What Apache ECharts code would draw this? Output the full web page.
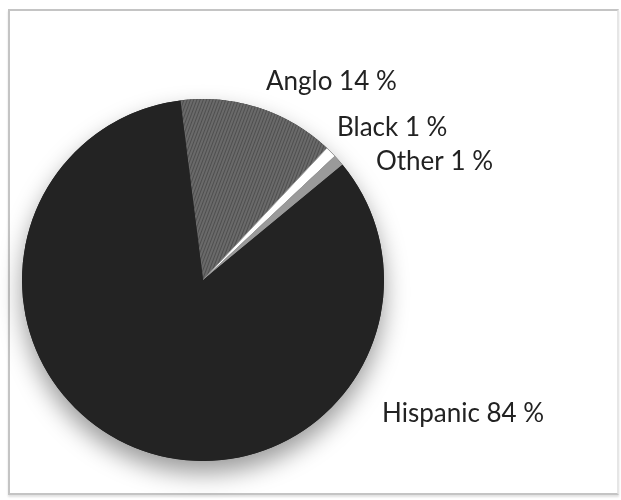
<!DOCTYPE html>
<html>
<head>
<meta charset="utf-8">
<script src="https://cdn.jsdelivr.net/npm/echarts@6/dist/echarts.min.js"></script>
<style>
  html, body { margin: 0; padding: 0; background: #ffffff; }
  #frame {
    position: absolute; left: 8px; top: 9px; width: 611px; height: 486px;
    border: 2px solid #c4c4c4; border-right-color: #e6e6e6; box-sizing: border-box;
    box-shadow: 0 2px 2px rgba(0,0,0,0.12);
  }
  #chart { position: absolute; left: 0; top: 0; width: 621px; height: 500px; }
</style>
</head>
<body>
<div id="frame"></div>
<div id="chart"></div>
<script>
// Ethnic composition, percent
var groups = ['Anglo', 'Black', 'Other', 'Hispanic'];
var shares = [14, 1, 1, 84];
var sliceColors = ['#6a6a6a', '#ffffff', '#9a9a9a', '#232323'];

// label anchors (left edge, vertical middle)
var labelAnchors = [[266, 82], [337, 128], [376, 162], [382, 414]];

var total = shares.reduce(function (a, b) { return a + b; }, 0);

var chart = echarts.init(document.getElementById('chart'), null, { renderer: 'canvas' });

chart.setOption({
  animation: false,
  backgroundColor: 'transparent',
  series: [
    {
      // soft drop shadow under the whole disc
      type: 'pie',
      silent: true,
      z: 1,
      center: [203, 280],
      radius: [0, 181],
      label: { show: false },
      labelLine: { show: false },
      itemStyle: {
        color: '#232323',
        shadowColor: 'rgba(0,0,0,0.4)',
        shadowBlur: 24,
        shadowOffsetY: 12
      },
      data: [{ value: total, name: 'all' }]
    },
    {
      type: 'pie',
      z: 2,
      center: [203, 280],
      radius: [0, 181],
      startAngle: 97.2,
      clockwise: true,
      data: groups.map(function (g, i) {
        var item = {
          name: g,
          value: shares[i],
          itemStyle: { color: sliceColors[i] }
        };
        if (g === 'Anglo') {
          item.itemStyle.decal = {
            symbol: 'rect',
            symbolSize: 1,
            dashArrayX: [1, 0],
            dashArrayY: [1, 2],
            rotation: -Math.PI / 2.6,
            color: 'rgba(45,45,45,0.45)'
          };
        }
        if (g === 'Black') {
          item.itemStyle.borderColor = '#9a9a9a';
          item.itemStyle.borderWidth = 1;
        }
        return item;
      }),
      label: {
        show: true,
        formatter: function (p) { return p.name + ' ' + p.value + ' %'; },
        fontFamily: 'Lato',
        fontSize: 26,
        color: '#222222',
        overflow: 'none',
        width: 300
      },
      labelLine: { show: false },
      labelLayout: function (params) {
        var a = labelAnchors[params.dataIndex];
        return { x: a[0], y: a[1], align: 'left', verticalAlign: 'middle', hideOverlap: false };
      },
      emphasis: { disabled: true }
    }
  ]
});
</script>
</body>
</html>
